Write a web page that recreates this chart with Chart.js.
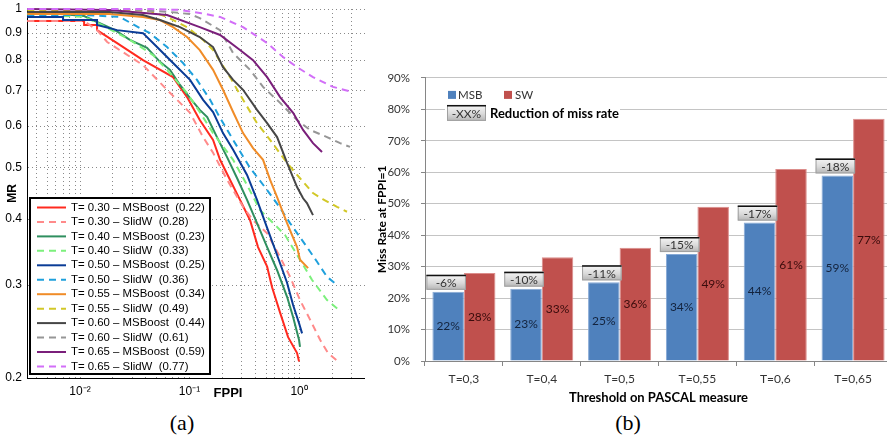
<!DOCTYPE html>
<html>
<head>
<meta charset="utf-8">
<script src="https://cdn.jsdelivr.net/npm/chart.js@4.4.0/dist/chart.umd.min.js"></script>
<style>
  html, body { margin: 0; padding: 0; background: #fff; overflow: hidden; width: 887px; height: 442px; }
  #detChart { position: absolute; left: 0; top: 0; }
  #barChart { position: absolute; left: 375px; top: 60px; }
  .cap { position: absolute; font-family: "Liberation Serif", "DejaVu Serif", serif; font-size: 22px; transform: translateX(-50%); }
</style>
</head>
<body>
<canvas id="detChart" width="365" height="400"></canvas>
<canvas id="barChart" width="517" height="350"></canvas>
<div class="cap" style="left:182px; top:410px;">(a)</div>
<div class="cap" style="left:628px; top:410px;">(b)</div>
<script>
// ---- (a) miss rate vs FPPI curves ----
const thresholds = ["0.30", "0.40", "0.50", "0.55", "0.60", "0.65"];
const msbScore = ["0.22", "0.23", "0.25", "0.34", "0.44", "0.59"];
const swScore = ["0.28", "0.33", "0.36", "0.49", "0.61", "0.77"];

const fppiMsb30 = [0.0033, 0.0109, 0.0109, 0.0143, 0.0143, 0.0218, 0.0376, 0.0707, 0.0949, 0.124, 0.164, 0.19, 0.234, 0.289, 0.357, 0.422, 0.511, 0.567, 0.671, 0.794, 0.959, 1.0];
const mrMsb30 = [0.949, 0.949, 0.933, 0.933, 0.912, 0.862, 0.80, 0.743, 0.681, 0.616, 0.565, 0.518, 0.475, 0.435, 0.398, 0.354, 0.325, 0.297, 0.266, 0.239, 0.223, 0.215];
const fppiSw30 = [0.0033, 0.0109, 0.0143, 0.0177, 0.0376, 0.0623, 0.101, 0.133, 0.164, 0.220, 0.308, 0.380, 0.511, 0.671, 0.827, 1.02, 1.26, 1.56, 1.84, 2.27];
const mrSw30 = [0.949, 0.949, 0.912, 0.866, 0.783, 0.703, 0.636, 0.572, 0.534, 0.475, 0.422, 0.398, 0.376, 0.339, 0.311, 0.281, 0.258, 0.236, 0.223, 0.215];

const fppiMsb40 = [0.0033, 0.0066, 0.0109, 0.0143, 0.0209, 0.0285, 0.0409, 0.0537, 0.0663, 0.0818, 0.101, 0.124, 0.145, 0.178, 0.220, 0.272, 0.335, 0.413, 0.511, 0.630, 0.777, 0.882, 1.0, 1.02];
const mrMsb40 = [0.983, 0.978, 0.970, 0.945, 0.912, 0.874, 0.844, 0.794, 0.767, 0.718, 0.678, 0.644, 0.624, 0.572, 0.524, 0.478, 0.435, 0.393, 0.354, 0.320, 0.285, 0.261, 0.236, 0.229];
const fppiSw40 = [0.0033, 0.0109, 0.0152, 0.0285, 0.0464, 0.0623, 0.0949, 0.124, 0.164, 0.250, 0.335, 0.440, 0.567, 0.745, 1.02, 1.31, 1.80, 2.37];
const mrSw40 = [0.978, 0.966, 0.937, 0.874, 0.818, 0.767, 0.693, 0.638, 0.582, 0.518, 0.464, 0.416, 0.395, 0.373, 0.335, 0.307, 0.281, 0.268];

const fppiMsb50 = [0.0033, 0.0070, 0.0070, 0.0143, 0.0143, 0.0218, 0.0376, 0.0505, 0.0707, 0.101, 0.133, 0.164, 0.202, 0.250, 0.335, 0.413, 0.511, 0.630, 0.777, 0.882, 1.0, 1.065];
const mrMsb50 = [0.966, 0.966, 0.953, 0.953, 0.933, 0.912, 0.900, 0.847, 0.790, 0.734, 0.673, 0.638, 0.582, 0.541, 0.485, 0.435, 0.385, 0.342, 0.303, 0.275, 0.254, 0.243];
const fppiSw50 = [0.0033, 0.0109, 0.0231, 0.0352, 0.0435, 0.0623, 0.0872, 0.117, 0.154, 0.190, 0.250, 0.357, 0.511, 0.671, 0.827, 1.18, 1.46, 1.80, 2.22];
const mrSw50 = [0.974, 0.974, 0.966, 0.920, 0.900, 0.847, 0.790, 0.734, 0.673, 0.622, 0.565, 0.500, 0.454, 0.420, 0.393, 0.354, 0.332, 0.311, 0.300];

const fppiMsb55 = [0.0033, 0.0187, 0.0376, 0.0537, 0.0707, 0.0949, 0.124, 0.164, 0.202, 0.250, 0.308, 0.380, 0.469, 0.543, 0.630, 0.777, 0.959, 1.02, 1.21];
const mrMsb55 = [0.978, 0.978, 0.966, 0.953, 0.924, 0.885, 0.836, 0.767, 0.703, 0.638, 0.582, 0.545, 0.518, 0.475, 0.440, 0.393, 0.354, 0.335, 0.323];
const fppiSw55 = [0.0033, 0.0285, 0.0435, 0.0623, 0.0949, 0.133, 0.164, 0.234, 0.308, 0.413, 0.543, 0.777, 1.02, 1.34, 1.66, 2.22, 2.74];
const mrSw55 = [0.996, 0.996, 0.991, 0.966, 0.924, 0.874, 0.836, 0.743, 0.673, 0.608, 0.565, 0.511, 0.478, 0.448, 0.436, 0.422, 0.413];

const fppiMsb60 = [0.0033, 0.0187, 0.0376, 0.0537, 0.0818, 0.124, 0.164, 0.202, 0.250, 0.308, 0.413, 0.511, 0.630, 0.777, 0.959, 1.088, 1.18, 1.34];
const mrMsb60 = [0.987, 0.987, 0.974, 0.953, 0.924, 0.885, 0.847, 0.776, 0.734, 0.703, 0.644, 0.608, 0.572, 0.511, 0.460, 0.438, 0.429, 0.407];
const fppiSw60 = [0.0033, 0.0231, 0.0663, 0.101, 0.124, 0.190, 0.250, 0.357, 0.469, 0.671, 0.959, 1.26, 1.80, 2.37, 2.92];
const mrSw60 = [1.0, 1.0, 0.987, 0.978, 0.961, 0.912, 0.825, 0.767, 0.712, 0.664, 0.616, 0.590, 0.572, 0.557, 0.548];

const fppiMsb65 = [0.0033, 0.0187, 0.0623, 0.124, 0.190, 0.289, 0.380, 0.511, 0.671, 0.882, 1.088, 1.34, 1.62];
const mrMsb65 = [1.0, 0.996, 0.974, 0.924, 0.893, 0.836, 0.800, 0.743, 0.681, 0.636, 0.590, 0.557, 0.536];
const fppiSw65 = [0.0033, 0.0435, 0.0818, 0.124, 0.190, 0.308, 0.511, 0.714, 0.959, 1.34, 2.04, 3.11];
const mrSw65 = [1.0, 1.0, 0.996, 0.983, 0.966, 0.924, 0.862, 0.811, 0.776, 0.743, 0.712, 0.696];

const xGridTicks = [0.004, 0.005, 0.006, 0.007, 0.008, 0.009, 0.01, 0.02, 0.03, 0.04, 0.05, 0.06, 0.07, 0.08, 0.09,
  0.1, 0.2, 0.3, 0.4, 0.5, 0.6, 0.7, 0.8, 0.9, 1, 2, 3, 4];
const xDecadeLabels = { 0.01: "10⁻²", 0.1: "10⁻¹", 1: "10⁰" };
const yTicksA = [0.2, 0.3, 0.4, 0.5, 0.6, 0.7, 0.8, 0.9, 1];

// ---- (b) miss rate at FPPI=1 ----
const categories = ["T=0,3", "T=0,4", "T=0,5", "T=0,55", "T=0,6", "T=0,65"];
const msbRate = [22, 23, 25, 34, 44, 59];
const swRate = [28, 33, 36, 49, 61, 77];
const reduction = [-6, -10, -11, -15, -17, -18];
const yTicksB = [0, 10, 20, 30, 40, 50, 60, 70, 80, 90];

const pts = (xs, ys) => xs.map((x, i) => ({ x: x, y: ys[i] }));

const curves = [
  [fppiMsb30, mrMsb30, "#ff2a1f", false, 0],
  [fppiSw30, mrSw30, "#ff8a8a", true, 0],
  [fppiMsb40, mrMsb40, "#2f8f5f", false, 1],
  [fppiSw40, mrSw40, "#7cf07c", true, 1],
  [fppiMsb50, mrMsb50, "#0a3c96", false, 2],
  [fppiSw50, mrSw50, "#1fa0dc", true, 2],
  [fppiMsb55, mrMsb55, "#f08c28", false, 3],
  [fppiSw55, mrSw55, "#d2c828", true, 3],
  [fppiMsb60, mrMsb60, "#464646", false, 4],
  [fppiSw60, mrSw60, "#969696", true, 4],
  [fppiMsb65, mrMsb65, "#7a1f7a", false, 5],
  [fppiSw65, mrSw65, "#d26ef8", true, 5]
];

const detSets = curves.map((c, i) => ({
  label: c[3]
    ? "T= " + thresholds[c[4]] + " – SlidW  (" + swScore[c[4]] + ")"
    : "T= " + thresholds[c[4]] + " – MSBoost  (" + msbScore[c[4]] + ")",
  data: pts(c[0], c[1]),
  borderColor: c[2],
  borderDash: c[3] ? [7, 5] : [],
  borderWidth: 2,
  pointRadius: 0,
  tension: 0,
  fill: false,
  clip: 3,
  order: curves.length - i
}));

const fontA = "'Liberation Sans', Arial, sans-serif";

// legend box in the lower left + FPPI label
const detLegend = {
  id: "detLegend",
  afterDraw(chart) {
    const ctx = chart.ctx;
    ctx.save();
    ctx.fillStyle = "#fff";
    ctx.fillRect(30, 198, 180, 176);
    ctx.strokeStyle = "#000";
    ctx.lineWidth = 2;
    ctx.strokeRect(30, 198, 180, 176);
    ctx.font = "11.4px " + fontA;
    ctx.textBaseline = "middle";
    chart.data.datasets.forEach((ds, i) => {
      const y = 207.5 + i * 14.45;
      ctx.strokeStyle = ds.borderColor;
      ctx.lineWidth = 2;
      ctx.setLineDash(ds.borderDash);
      ctx.beginPath();
      ctx.moveTo(37, y);
      ctx.lineTo(66, y);
      ctx.stroke();
      ctx.setLineDash([]);
      ctx.fillStyle = "#000";
      ctx.fillText(ds.label, 71, y);
    });
    ctx.font = "bold 13px " + fontA;
    ctx.textAlign = "center";
    ctx.fillText("FPPI", 228, 393);
    ctx.restore();
  }
};

new Chart(document.getElementById("detChart"), {
  type: "line",
  data: { datasets: detSets },
  options: {
    responsive: false,
    animation: false,
    layout: { padding: { top: 9, left: 0, right: 0, bottom: 0 } },
    plugins: { legend: { display: false }, tooltip: { enabled: false } },
    scales: {
      x: {
        type: "logarithmic",
        min: 0.00328,
        max: 4,
        afterBuildTicks: s => { s.ticks = xGridTicks.map(v => ({ value: v })); },
        afterFit: s => { s.height = 22; s.paddingLeft = 0; s.paddingRight = 0; },
        ticks: {
          autoSkip: false, maxRotation: 0, padding: 6, color: "#000",
          font: { family: fontA, size: 12 },
          callback: v => xDecadeLabels[v] || ""
        },
        grid: { color: "#8a8a8a", drawTicks: false },
        border: { color: "#000", width: 1, dash: [1, 3] }
      },
      y: {
        type: "logarithmic",
        min: 0.2,
        max: 1,
        afterBuildTicks: s => { s.ticks = yTicksA.map(v => ({ value: v })); },
        afterFit: s => { s.width = 27; s.paddingTop = 0; s.paddingBottom = 0; },
        ticks: {
          autoSkip: false, padding: 5, color: "#000",
          font: { family: fontA, size: 12 },
          callback: v => String(v)
        },
        grid: { color: "#8a8a8a", drawTicks: false },
        border: { color: "#000", width: 1, dash: [1, 3] },
        title: { display: true, text: "MR", color: "#000", font: { family: fontA, size: 12, weight: "bold" }, padding: { top: 5 } }
      }
    }
  },
  plugins: [detLegend]
});

// ---- bar chart helpers ----
const fontB = "Lato, 'Open Sans', sans-serif";

function drawTag(ctx, x, y, w, h, text) {
  const g = ctx.createLinearGradient(0, y, 0, y + h);
  g.addColorStop(0, "#f6f6f6");
  g.addColorStop(0.55, "#dadada");
  g.addColorStop(1, "#b4b4b4");
  ctx.fillStyle = g;
  ctx.fillRect(x, y, w, h);
  ctx.strokeStyle = "#a0a0a0";
  ctx.lineWidth = 1;
  ctx.strokeRect(x + 0.5, y + 0.5, w - 1, h - 1);
  ctx.strokeStyle = "#111";
  ctx.lineWidth = 1.5;
  ctx.beginPath();
  ctx.moveTo(x, y + 0.75);
  ctx.lineTo(x + w, y + 0.75);
  ctx.stroke();
  ctx.fillStyle = "#333";
  ctx.font = "12px " + fontB;
  ctx.textAlign = "center";
  ctx.textBaseline = "middle";
  ctx.fillText(text, x + w / 2, y + h / 2 + 1);
}

const barLabels = {
  id: "barLabels",
  afterDatasetsDraw(chart) {
    const ctx = chart.ctx;
    const ca = chart.chartArea;
    const msbMeta = chart.getDatasetMeta(0);
    const swMeta = chart.getDatasetMeta(1);
    ctx.save();
    ctx.font = "12px " + fontB;
    ctx.textAlign = "center";
    ctx.textBaseline = "middle";
    msbMeta.data.forEach((bar, i) => {
      ctx.fillStyle = "#13233d";
      ctx.fillText(msbRate[i] + "%", bar.x, (bar.y + bar.base) / 2);
    });
    swMeta.data.forEach((bar, i) => {
      ctx.fillStyle = "#3a0c0c";
      ctx.fillText(swRate[i] + "%", bar.x, (bar.y + bar.base) / 2);
    });
    msbMeta.data.forEach((bar, i) => {
      const left = bar.x - bar.width / 2 - 6;
      drawTag(ctx, left, bar.y - 17, bar.width + 8, 15, reduction[i] + "%");
    });

    // legend
    ctx.fillStyle = "#fff";
    ctx.fillRect(ca.left + 20, ca.top + 8, 175, 38);
    ctx.fillStyle = chart.data.datasets[0].backgroundColor;
    ctx.fillRect(ca.left + 23, ca.top + 13, 8, 8);
    ctx.fillStyle = chart.data.datasets[1].backgroundColor;
    ctx.fillRect(ca.left + 79, ca.top + 13, 8, 8);
    ctx.fillStyle = "#333";
    ctx.font = "11.5px " + fontB;
    ctx.textAlign = "left";
    ctx.textBaseline = "middle";
    ctx.fillText(chart.data.datasets[0].label, ca.left + 33, ca.top + 17);
    ctx.fillText(chart.data.datasets[1].label, ca.left + 90, ca.top + 17);
    drawTag(ctx, ca.left + 22, ca.top + 27, 39, 16, "-XX%");
    ctx.fillStyle = "#000";
    ctx.font = "bold 13px " + fontB;
    ctx.textAlign = "left";
    ctx.fillText("Reduction of miss rate", ca.left + 65, ca.top + 36);
    ctx.restore();
  }
};

new Chart(document.getElementById("barChart"), {
  type: "bar",
  data: {
    labels: categories,
    datasets: [
      { label: "MSB", data: msbRate, backgroundColor: "#4f81bd", borderColor: "#86a9d6", borderWidth: 1 },
      { label: "SW", data: swRate, backgroundColor: "#c0504d", borderColor: "#dc8d8b", borderWidth: 1 }
    ]
  },
  options: {
    responsive: false,
    animation: false,
    categoryPercentage: 0.81,
    barPercentage: 1,
    layout: { padding: { top: 16, left: 0, right: 0, bottom: 0 } },
    plugins: { legend: { display: false }, tooltip: { enabled: false } },
    scales: {
      x: {
        afterFit: s => { s.height = 49; },
        grid: { drawOnChartArea: false, tickLength: 5, color: "#868686" },
        border: { color: "#868686" },
        ticks: { color: "#333", padding: 6, font: { family: fontB, size: 12 } },
        title: { display: true, text: "Threshold on PASCAL measure", color: "#000", font: { family: fontB, size: 13, weight: "bold" }, padding: { bottom: 4 } }
      },
      y: {
        min: 0,
        max: 90,
        afterBuildTicks: s => { s.ticks = yTicksB.map(v => ({ value: v })); },
        afterFit: s => { s.width = 50; },
        grid: { color: "#c4c4c4", tickLength: 4, tickColor: "#868686" },
        border: { color: "#868686" },
        ticks: { color: "#333", padding: 11, font: { family: fontB, size: 11.5 }, callback: v => v + "%" },
        title: { display: true, text: "Miss Rate at FPPI=1", color: "#000", font: { family: fontB, size: 12, weight: "bold" }, padding: { top: 0 } }
      }
    }
  },
  plugins: [barLabels]
});
</script>
</body>
</html>
